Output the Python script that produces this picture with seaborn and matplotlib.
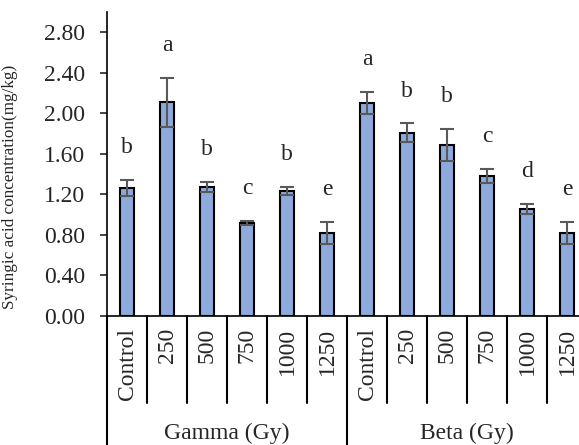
import numpy as np
import pandas as pd
import matplotlib
matplotlib.use('Agg')
import matplotlib.pyplot as plt
import matplotlib.transforms as mtransforms
import seaborn as sns

sns.set_style('white')
plt.rcParams['font.family'] = ['Liberation Serif', 'DejaVu Serif']

# values
doses = ['Control', '250', '500', '750', '1000', '1250']
groups = ['Gamma (Gy)', 'Beta (Gy)']
gamma_mean = [1.26, 2.11, 1.27, 0.92, 1.23, 0.82]
gamma_err = [0.08, 0.24, 0.05, 0.02, 0.04, 0.11]
gamma_letters = ['b', 'a', 'b', 'c', 'b', 'e']
beta_mean = [2.10, 1.81, 1.69, 1.38, 1.06, 0.82]
beta_err = [0.11, 0.09, 0.16, 0.07, 0.05, 0.11]
beta_letters = ['a', 'b', 'b', 'c', 'd', 'e']

df = pd.DataFrame({
    'group': [groups[0]] * 6 + [groups[1]] * 6,
    'dose': doses + doses,
    'mean': gamma_mean + beta_mean,
    'err': gamma_err + beta_err,
    'letter': gamma_letters + beta_letters,
})
df['key'] = df['group'] + ' ' + df['dose']

FS = 17
fig = plt.figure(figsize=(5.79, 4.45), dpi=100)
ax = fig.add_axes([107 / 579, 1 - 316 / 445, 480 / 579, 304 / 445])

sns.barplot(data=df, x='key', y='mean', ax=ax, color='#8EA9DB',
            edgecolor='black', linewidth=1.5, width=0.33, saturation=1)
xs = np.arange(len(df))
ax.errorbar(xs, df['mean'], yerr=df['err'], fmt='none', ecolor='#595959',
            elinewidth=1.5, capsize=5, capthick=1.5)

for x, m, e, l in zip(xs, df['mean'], df['err'], df['letter']):
    ax.text(x, m + e + 0.32, l, ha='center', va='center', fontsize=FS)

ax.set_ylim(0, 3.0)
ax.set_xlim(-0.5, len(df) - 0.5)
ax.set_yticks(np.arange(0, 2.81, 0.4))
ax.set_yticklabels([f'{v:.2f}' for v in np.arange(0, 2.81, 0.4)], fontsize=FS)
ax.tick_params(axis='y', left=True, length=5, width=1.2, pad=11)
ax.set_xticks([])
ax.set_xlabel('')
ax.set_ylabel('Syringic acid concentration(mg/kg)', fontsize=12.3)
ax.yaxis.set_label_coords(-0.185, 0.424)
for s in ['top', 'right']:
    ax.spines[s].set_visible(False)
for s in ['left', 'bottom']:
    ax.spines[s].set_color('black')
    ax.spines[s].set_linewidth(1.2)

# two-level category axis
trans = mtransforms.blended_transform_factory(ax.transData, ax.transAxes)
for x, d in zip(xs, df['dose']):
    ax.text(x, -0.04, d, rotation=90, ha='center', va='top', fontsize=FS,
            transform=trans)
for i in range(len(df) + 1):
    xb = i - 0.5
    low = -0.43 if i % 6 == 0 else -0.286
    ax.plot([xb, xb], [0, low], color='black', lw=1.5, transform=trans,
            clip_on=False)
for j, g in enumerate(groups):
    ax.text(j * 6 + 2.5, -0.385, g, ha='center', va='center', fontsize=FS,
            transform=trans)

fig.savefig('out.png', dpi=100)
